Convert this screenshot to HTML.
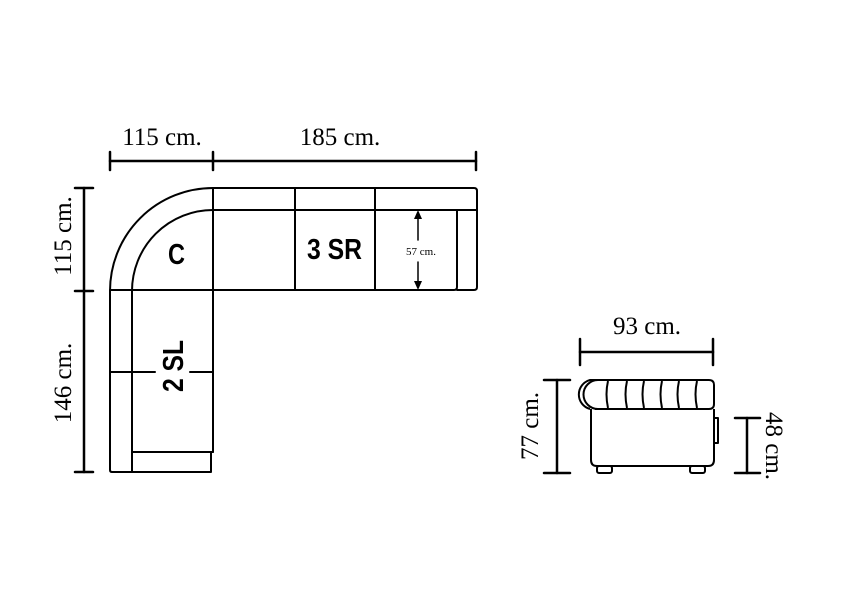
<!DOCTYPE html>
<html><head><style>html,body{margin:0;padding:0;background:#fff}svg{display:block}</style></head><body>
<svg width="848" height="600" viewBox="0 0 848 600" xmlns="http://www.w3.org/2000/svg">
<g fill="none" stroke="#000" stroke-linecap="round" stroke-linejoin="round">
<g stroke-width="2.5">
<line x1="110" y1="161" x2="476" y2="161"/>
<line x1="110" y1="152" x2="110" y2="170"/>
<line x1="213" y1="152" x2="213" y2="170"/>
<line x1="476" y1="152" x2="476" y2="170"/>
<line x1="84" y1="188" x2="84" y2="472"/>
<line x1="75" y1="188" x2="93" y2="188"/>
<line x1="75" y1="291" x2="93" y2="291"/>
<line x1="75" y1="472" x2="93" y2="472"/>
</g>
<g stroke-width="2">
<path d="M110 291 A103 103 0 0 1 213 188"/>
<path d="M132 291 A81 81 0 0 1 213 210"/>
<path d="M213 188 H474 Q477 188 477 191 V287 Q477 290 474 290 H457"/>
<line x1="213" y1="210" x2="477" y2="210"/>
<line x1="213" y1="188" x2="213" y2="290"/>
<line x1="295" y1="188" x2="295" y2="290"/>
<line x1="375" y1="188" x2="375" y2="290"/>
<path d="M457 210 V287 Q457 290 454 290 H110"/>
<path d="M110 291 V470 Q110 472 112 472 H211 V452"/>
<line x1="132" y1="291" x2="132" y2="472"/>
<line x1="213" y1="291" x2="213" y2="452"/>
<line x1="132" y1="452" x2="213" y2="452"/>
<line x1="110" y1="372" x2="155" y2="372"/>
<line x1="190" y1="372" x2="213" y2="372"/>
</g>
<line x1="418" y1="214" x2="418" y2="240" stroke-width="1.5"/>
<line x1="418" y1="262" x2="418" y2="286" stroke-width="1.5"/>
</g>
<polygon points="418,210 414,219 422,219" fill="#000"/>
<polygon points="418,290 414,281 422,281" fill="#000"/>
<g font-family="Liberation Serif, serif" fill="#000">
<text x="162" y="145" font-size="25" text-anchor="middle">115 cm.</text>
<text x="340" y="145" font-size="25" text-anchor="middle">185 cm.</text>
<text transform="translate(71,236) rotate(-90)" font-size="25" text-anchor="middle">115 cm.</text>
<text transform="translate(71,383) rotate(-90)" font-size="25" text-anchor="middle">146 cm.</text>
<text x="421" y="255" font-size="11" text-anchor="middle">57 cm.</text>
<text x="647" y="334" font-size="25" text-anchor="middle">93 cm.</text>
<text transform="translate(538,426) rotate(-90)" font-size="25" text-anchor="middle">77 cm.</text>
<text transform="translate(766,446) rotate(90)" font-size="25" text-anchor="middle">48 cm.</text>
</g>
<g font-family="Liberation Sans, sans-serif" font-weight="bold" fill="#000">
<text x="168" y="264" font-size="29" textLength="17" lengthAdjust="spacingAndGlyphs">C</text>
<text x="307" y="259" font-size="29" textLength="55" lengthAdjust="spacingAndGlyphs">3 SR</text>
<text transform="translate(183,392) rotate(-90)" font-size="29" textLength="52" lengthAdjust="spacingAndGlyphs">2 SL</text>
</g>
<g fill="none" stroke="#000" stroke-width="2.5" stroke-linecap="round" stroke-linejoin="round">
<line x1="580" y1="352" x2="713" y2="352"/>
<line x1="580" y1="339" x2="580" y2="365"/>
<line x1="713" y1="339" x2="713" y2="365"/>
<line x1="557" y1="380" x2="557" y2="473"/>
<line x1="544" y1="380" x2="570" y2="380"/>
<line x1="544" y1="473" x2="570" y2="473"/>
<line x1="747" y1="418" x2="747" y2="473"/>
<line x1="735" y1="418" x2="760" y2="418"/>
<line x1="735" y1="473" x2="760" y2="473"/>
</g>
<g fill="none" stroke="#000" stroke-width="2" stroke-linejoin="round">
<path d="M600 380 H590 A15 15 0 0 0 590 409"/>
<path d="M604 380 H598 A14 14 0 0 0 598 409 H604"/>
<path d="M595 380 H709 Q714 380 714 385 V404 Q714 409 709 409 H595"/>
<path d="M608 381 Q605 394 608 408 M627 381 Q624 394 627 408 M644 381 Q641 394 644 408 M662 381 Q659 394 662 408 M679 381 Q676 394 679 408 M697 381 Q694 394 697 408"/>
<path d="M591 409 V460 Q591 466 597 466 H708 Q714 466 714 460 V409"/>
<path d="M714 418 H718 V443 H714"/>
<rect x="597" y="466" width="15" height="7" rx="2"/>
<rect x="690" y="466" width="15" height="7" rx="2"/>
</g>
</svg>
</body></html>
